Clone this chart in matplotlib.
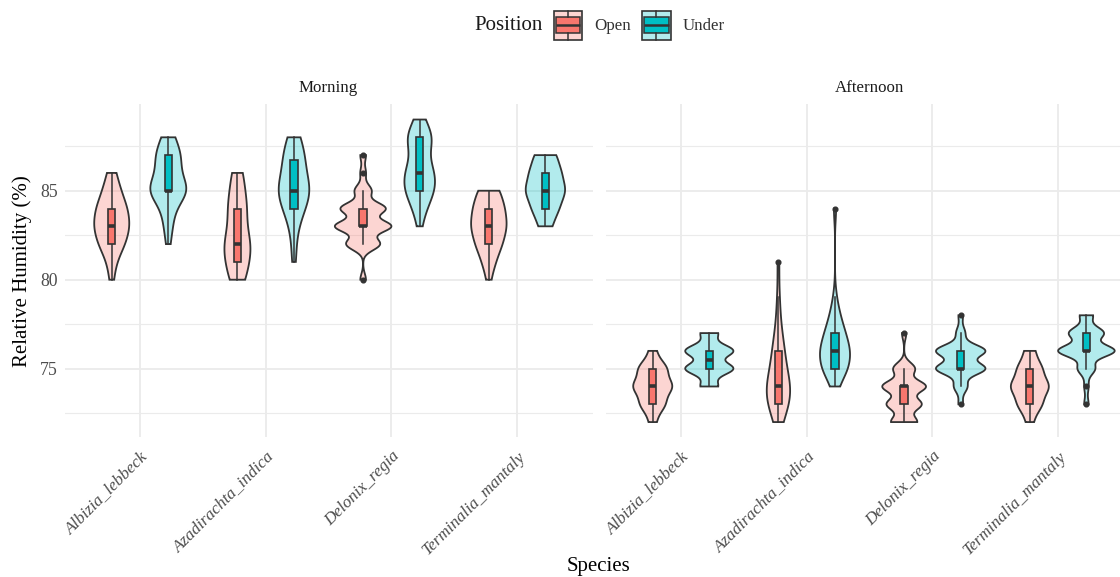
import numpy as np
import matplotlib
matplotlib.use("Agg")
import matplotlib.pyplot as plt
from matplotlib.patches import Rectangle

plt.rcParams["font.family"] = ["Liberation Serif", "DejaVu Serif"]

# ---------------- data (counts of readings per humidity value, %) ----------------
species = ["Albizia_lebbeck", "Azadirachta_indica", "Delonix_regia", "Terminalia_mantaly"]
times = ["Morning", "Afternoon"]
positions = ["Open", "Under"]

morning_open = {
    "Albizia_lebbeck":    {80: 1, 81: 2, 82: 6, 83: 8, 84: 7, 85: 4, 86: 2},
    "Azadirachta_indica": {80: 4, 81: 5, 82: 7, 83: 3, 84: 5, 85: 3, 86: 3},
    "Delonix_regia":      {80: 1, 82: 6, 83: 10, 84: 8, 85: 3, 86: 1, 87: 1},
    "Terminalia_mantaly": {80: 1, 81: 3, 82: 6, 83: 8, 84: 7, 85: 5},
}
morning_under = {
    "Albizia_lebbeck":    {82: 1, 83: 2, 84: 3, 85: 10, 86: 5, 87: 6, 88: 3},
    "Azadirachta_indica": {81: 1, 82: 1, 83: 2, 84: 5, 85: 8, 86: 5, 87: 5, 88: 3},
    "Delonix_regia":      {83: 1, 84: 3, 85: 7, 86: 7, 87: 3, 88: 7, 89: 2},
    "Terminalia_mantaly": {83: 3, 84: 6, 85: 9, 86: 7, 87: 5},
}
afternoon_open = {
    "Albizia_lebbeck":    {72: 2, 73: 7, 74: 11, 75: 8, 76: 2},
    "Azadirachta_indica": {72: 2, 73: 7, 74: 8, 75: 4, 76: 4, 77: 2, 78: 1, 79: 1, 81: 1},
    "Delonix_regia":      {72: 6, 73: 8, 74: 10, 75: 5, 77: 1},
    "Terminalia_mantaly": {72: 2, 73: 7, 74: 11, 75: 7, 76: 3},
}
afternoon_under = {
    "Albizia_lebbeck":    {74: 4, 75: 11, 76: 11, 77: 4},
    "Azadirachta_indica": {74: 2, 75: 8, 76: 9, 77: 6, 78: 3, 79: 1, 84: 1},
    "Delonix_regia":      {73: 1, 74: 3, 75: 11, 76: 11, 77: 2, 78: 1},
    "Terminalia_mantaly": {73: 1, 74: 1, 75: 4, 76: 13, 77: 8, 78: 3},
}
panel_data = {
    "Morning": {"Open": morning_open, "Under": morning_under},
    "Afternoon": {"Open": afternoon_open, "Under": afternoon_under},
}

fill_full = {"Open": "#F8766D", "Under": "#00BFC4"}
edge = "#333333"

# ---------------- helpers ----------------
def expand(counts):
    return np.repeat(np.array(list(counts.keys()), float), list(counts.values()))

def bw_nrd0(x):
    hi = np.std(x, ddof=1)
    q75, q25 = np.percentile(x, [75, 25])
    lo = min(hi, (q75 - q25) / 1.34)
    if lo == 0:
        lo = hi
    return 0.9 * lo * len(x) ** (-0.2)

def kde(x, n=512):
    bw = bw_nrd0(x)
    grid = np.linspace(x.min(), x.max(), n)
    d = np.exp(-0.5 * ((grid[:, None] - x[None, :]) / bw) ** 2).sum(1)
    d /= (len(x) * bw * np.sqrt(2 * np.pi))
    return grid, d

W, H = 1120, 577
fig = plt.figure(figsize=(W / 100, H / 100), dpi=100)

unit = 125.7
panel_left = {"Morning": 64.6, "Afternoon": 605.6}
top_px, bot_px = 104.4, 437.2
ylo, yhi = 71.15, 89.85

dodge = 0.225
vwidth = 0.45
boxw = 0.058

axes = {}
for t in times:
    l = panel_left[t]
    ax = fig.add_axes([l / W, 1 - bot_px / H, 4.2 * unit / W, (bot_px - top_px) / H])
    ax.set_xlim(0.4, 4.6)
    ax.set_ylim(ylo, yhi)
    for s in ax.spines.values():
        s.set_visible(False)
    ax.set_xticks(range(1, 5))
    ax.set_xticklabels(species, rotation=45, ha="right", va="top",
                       rotation_mode="anchor", fontsize=12.3, style="italic", color="#4D4D4D")
    ax.set_yticks([75, 80, 85])
    ax.set_yticks([72.5, 77.5, 82.5, 87.5], minor=True)
    ax.tick_params(which="both", length=0)
    ax.tick_params(axis="x", pad=8)
    ax.tick_params(axis="y", pad=5, labelsize=12.8, labelcolor="#4D4D4D")
    ax.grid(which="major", color="#EBEBEB", lw=1.3)
    ax.grid(which="minor", axis="y", color="#EBEBEB", lw=0.8)
    ax.set_axisbelow(True)
    if t == "Afternoon":
        ax.set_yticklabels([])
    ax.text(2.5, yhi + 0.5, t, ha="center", va="bottom", fontsize=12.2, color="#1A1A1A",
            transform=ax.transData, clip_on=False)
    axes[t] = ax

    # densities, scaled by max density in panel (scale = "area")
    dens = {}
    for p in positions:
        for i, sp in enumerate(species):
            x = expand(panel_data[t][p][sp])
            dens[(p, sp)] = kde(x)
    dmax = max(d.max() for _, d in dens.values())

    # violins
    for p in positions:
        off = -dodge if p == "Open" else dodge
        for i, sp in enumerate(species):
            xc = i + 1 + off
            g, d = dens[(p, sp)]
            hw = d / dmax * vwidth / 2
            xs = np.concatenate([xc - hw, (xc + hw)[::-1]])
            ys = np.concatenate([g, g[::-1]])
            ax.fill(xs, ys, facecolor=fill_full[p], alpha=0.3, edgecolor="none", zorder=2)
            ax.fill(xs, ys, facecolor="none", edgecolor=edge, lw=1.3, zorder=2.1)

    # boxplots
    for p in positions:
        off = -dodge if p == "Open" else dodge
        for i, sp in enumerate(species):
            xc = i + 1 + off
            x = expand(panel_data[t][p][sp])
            q1, med, q3 = np.percentile(x, [25, 50, 75])
            iqr = q3 - q1
            lo_w = x[x >= q1 - 1.5 * iqr].min()
            hi_w = x[x <= q3 + 1.5 * iqr].max()
            outl = np.unique(x[(x < lo_w) | (x > hi_w)])
            ax.plot([xc, xc], [q3, hi_w], color=edge, lw=1.1, zorder=3)
            ax.plot([xc, xc], [lo_w, q1], color=edge, lw=1.1, zorder=3)
            ax.add_patch(Rectangle((xc - boxw / 2, q1), boxw, q3 - q1, facecolor=fill_full[p],
                                   edgecolor=edge, lw=1.2, zorder=3.1))
            ax.plot([xc - boxw / 2, xc + boxw / 2], [med, med], color=edge, lw=2.6,
                    solid_capstyle="butt", zorder=3.2)
            if len(outl):
                ax.plot(np.full(len(outl), xc), outl, "o", ms=3.4, color=edge, zorder=3.3)

# axis titles
fig.text(22 / W, 1 - 270.8 / H, "Relative Humidity (%)", rotation=90, ha="center", va="center",
         fontsize=15, color="black")
fig.text(599 / W, 1 - 567 / H, "Species", ha="center", va="center", fontsize=15, color="black")

# legend
lax = fig.add_axes([0, 0, 1, 1])
lax.set_xlim(0, W)
lax.set_ylim(H, 0)
lax.axis("off")
lax.text(474, 25.5, "Position", ha="left", va="center", fontsize=15, color="#1A1A1A")
for p, x0, tx in [("Open", 553.5, 594), ("Under", 642, 683)]:
    lax.add_patch(Rectangle((x0, 11), 28.5, 29, facecolor=fill_full[p], alpha=0.3, edgecolor="none"))
    lax.add_patch(Rectangle((x0, 11), 28.5, 29, facecolor="none", edgecolor=edge, lw=1.2))
    lax.add_patch(Rectangle((x0 + 2, 17), 24.5, 16, facecolor=fill_full[p], edgecolor=edge, lw=1.1))
    lax.plot([x0 + 2, x0 + 26.5], [25, 25], color=edge, lw=1.8, solid_capstyle="butt")
    lax.plot([x0 + 14.25, x0 + 14.25], [11, 17], color=edge, lw=1.1)
    lax.plot([x0 + 14.25, x0 + 14.25], [33, 40], color=edge, lw=1.1)
    lax.text(tx, 25.5, p, ha="left", va="center", fontsize=12.2, color="#333333")

fig.savefig("out.png", dpi=100)
